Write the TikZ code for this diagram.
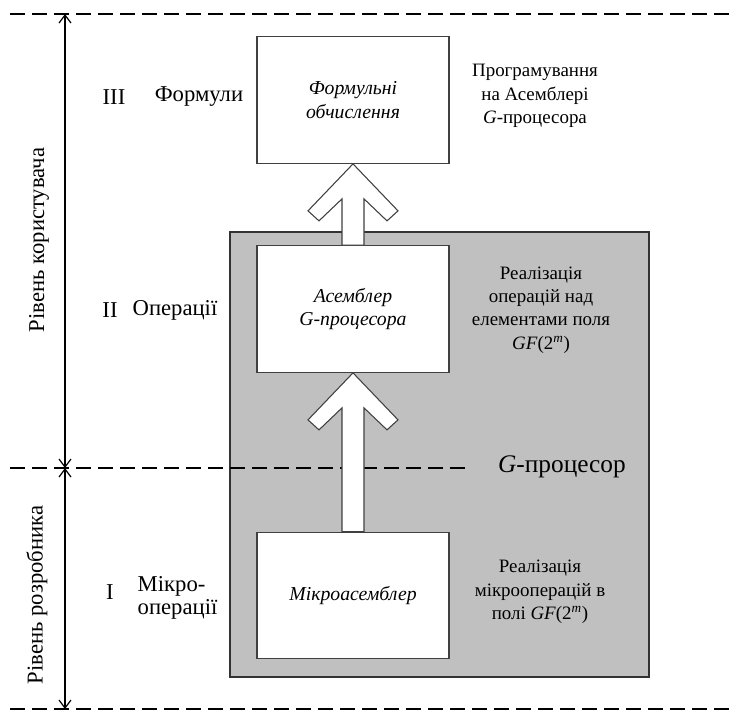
\documentclass[tikz,border=0pt]{standalone}
\usepackage{fontspec}
\setmainfont{Liberation Serif}
\usepackage{tikz}
\usetikzlibrary{calc,arrows.meta,positioning}
\definecolor{procgray}{RGB}{192,192,192}
\newcommand{\txt}{\fontsize{14.2}{17.5}\selectfont}
\newcommand{\bigtxt}{\fontsize{17}{17.5}\selectfont}
% white block arrow from the box #1 up to the box #2
\newcommand{\bigarrow}[2]{%
  \draw[blockarr] (#2.south) -- ++(-45,47) -- ++(11,10) -- ++(23,-22) coordinate (#1-l)
    -- (#1-l |- #1.north) -- ++(22,0) coordinate (#1-r) -- (#1-r |- #1-l)
    -- ++(23,22) -- ++(11,-10) -- cycle;}
\tikzset{
  levbox/.style={draw=black!75,line width=0.8pt,fill=white,minimum width=144pt,
    minimum height=95pt,align=center,font=\fontsize{14.8}{17.5}\selectfont\itshape},
  note/.style={align=center,font=\txt},
  side/.style={align=center,font=\bigtxt},
  levline/.style={line width=1.4pt,dash pattern=on 11pt off 5.5pt},
  blockarr/.style={draw=black!75,line width=0.8pt,fill=white},
  dimarrow/.style={line width=0.9pt,{Straight Barb[length=6pt,width=9pt]}-{Straight Barb[length=6pt,width=9pt]}}
}
\begin{document}
\begin{tikzpicture}[x=0.75pt,y=-0.75pt]
  \useasboundingbox (0,0) rectangle (732,711);
  % G-processor area
  \draw[draw=black!80,line width=1pt,fill=procgray] (230,232) rectangle (649,677);
  % level boundaries
  \draw[levline] (10,14) -- (732,14);
  \draw[levline] (10,468) -- (466,468);
  \draw[levline] (10,709) -- (732,709);
  \coordinate (top) at (65,14);
  \coordinate (mid) at (65,468);
  \coordinate (bot) at (65,709);
  \draw[dimarrow] (top) -- (mid);
  \draw[dimarrow] (mid) -- (bot);
  \node[side,rotate=90] (user) at (39,240) {Рівень користувача};
  \node[side,rotate=90] (dev) at (37,595) {Рівень розробника};

  \node[levbox] (formula) at (353,100) {Формульні\\обчислення};
  \node[levbox] (asm) at (353,309) {Асемблер\\\textit{G}-процесора};
  \node[levbox] (micro) at (353,595.5) {Мікроасемблер};
  \bigarrow{asm}{formula}
  \bigarrow{micro}{asm}

  \node[side] (n3) at (114,97) {III};
  \node[side] (l3) at (199,97) {Формули};
  \node[side] (n2) at (110,310) {II};
  \node[side] (l2) at (175,310) {Операції};
  \node[side] (n1) at (110,592) {I};
  \node[side,align=left,anchor=west] (l1) at (133,598) {Мікро-\\операції};

  \node[note] (r3) at (535,96) {Програмування\\на Асемблері\\\textit{G}-процесора};
  \node[note] (r2) at (541,310) {Реалізація\\операцій над\\елементами поля\\\textit{GF}(2\textsuperscript{\textit{m}})};
  \node[note,font=\fontsize{19}{22}\selectfont] (gp) at (562,467) {\textit{G}-процесор};
  \node[note] (r1) at (540,592) {Реалізація\\мікрооперацій в\\полі \textit{GF}(2\textsuperscript{\textit{m}})};
\end{tikzpicture}
\end{document}
